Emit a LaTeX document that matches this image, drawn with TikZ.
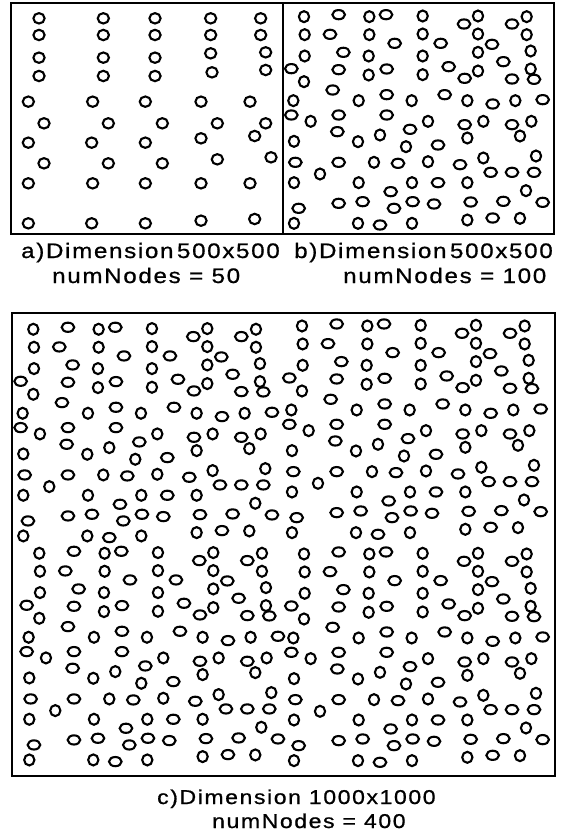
\documentclass[tikz,border=0pt]{standalone}
\usepackage{fontspec}
\setmainfont{Liberation Sans}[FakeStretch=1.15, LetterSpace=8, FakeBold=0.8]
\begin{document}
\begin{tikzpicture}[x=1pt,y=-1pt]
\tikzset{
  frame/.style={line width=2pt},
  dot/.style={line width=2.1pt},
  captext/.style={anchor=base west, inner sep=0pt, font=\fontsize{21}{24}\selectfont},
  captextc/.style={anchor=base west, inner sep=0pt, font=\fontsize{20}{24}\selectfont}
}
\useasboundingbox (0,0) rectangle (576,834);
\fill[white] (0,0) rectangle (576,834);
% panel a points (3x zoom coordinates)
\def\apts{117/55, 310/55, 465/55, 632/55, 782/55,
117/105, 310/105, 465/105, 632/105, 782/105,
117/173, 310/173, 465/173, 632/160, 797/157,
117/228, 310/228, 465/228, 636/217, 797/210,
85/305, 278/305, 436/305, 603/305, 750/305,
132/370, 325/370, 487/370, 652/370, 797/370,
85/428, 275/428, 436/428, 603/415, 764/408,
132/490, 325/490, 487/490, 652/478, 813/472,
85/550, 278/550, 436/550, 603/550, 750/550,
85/670, 275/670, 436/670, 603/662, 764/657}
% panel b points (3x zoom coordinates, type 0 round, 1 wide)
\def\bpts{72/50/0, 176/44/1, 268/50/0, 318/44/1, 428/48/0, 552/72/1, 594/48/0, 696/72/1, 740/50/0,
74/104/0, 150/103/1, 268/104/0, 344/130/1, 428/102/0, 482/130/1, 594/102/0, 636/133/1, 740/104/0,
74/168/0, 190/157/1, 266/168/0, 428/168/0, 594/157/0, 752/153/0, 670/185/1,
34/206/1, 176/209/1, 266/225/0, 320/207/1, 428/224/0, 506/200/1, 554/235/1, 594/213/0, 696/237/1, 752/207/0, 762/238/1, 72/245/0,
158/270/1, 40/302/0, 236/302/0, 320/284/1, 395/302/0, 494/284/1, 562/302/0, 638/312/1, 706/302/0, 788/299/1,
34/345/1, 92/364/0, 176/345/1, 320/345/1, 444/364/0, 554/374/1, 610/364/0, 696/374/1, 754/364/0,
172/395/1, 390/388/1, 300/405/0, 234/425/0, 42/424/0, 562/414/0, 720/408/0, 378/440/0, 474/435/1,
46/487/1, 176/487/1, 282/487/0, 354/490/1, 444/485/0, 540/494/1, 610/474/0, 768/468/0,
120/522/0, 632/517/1, 696/517/1, 762/517/1,
42/548/0, 236/548/0, 396/548/0, 474/548/1, 562/548/0, 332/575/1, 738/572/0,
56/625/1, 176/610/1, 248/605/1, 342/625/1, 398/605/1, 462/612/1, 572/606/1, 670/604/1, 788/607/1,
42/670/0, 234/670/0, 300/675/1, 396/670/0, 562/660/0, 638/654/1, 720/655/0}
\newcommand\drawtile[2]{%
  \foreach \zx/\zy/\t in \bpts {%
    \ifnum\t=1
      \draw[dot] ({#1+\zx/3-24},{#2+\zy/3-16.7}) ellipse (6.3pt and 4.6pt);
    \else
      \draw[dot] ({#1+\zx/3-24},{#2+\zy/3-16.7}) ellipse (5.1pt and 5.5pt);
    \fi
  }%
}
% panel a
\foreach \zx/\zy in \apts {\draw[dot] ({\zx/3},{\zy/3}) ellipse (5.6pt and 5.2pt);}
% panel b
\drawtile{304}{16.7}
% panel c
\drawtile{33.3}{329.3}
\drawtile{302}{326}
\drawtile{39.3}{553.3}
\drawtile{304}{554}
% frames
\draw[frame] (11,3.5) rectangle (554,233.5);
\draw[frame] (282.7,3.5) -- (282.7,233.5);
\draw[frame] (11.5,312.5) rectangle (554.5,776);
% captions
\node[captext] (a1) at (21,258) {a)Dimension\,500x500};
\node[captext] (b1) at (294,258) {b)Dimension\,500x500};
\node[captext] (a2) at (52,283) {numNodes = 50};
\node[captext] (b2) at (343,283) {numNodes = 100};
\node[captextc] (c1) at (157,804) {c)Dimension 1000x1000};
\node[captextc] (c2) at (212,828) {numNodes = 400};
\end{tikzpicture}
\end{document}
